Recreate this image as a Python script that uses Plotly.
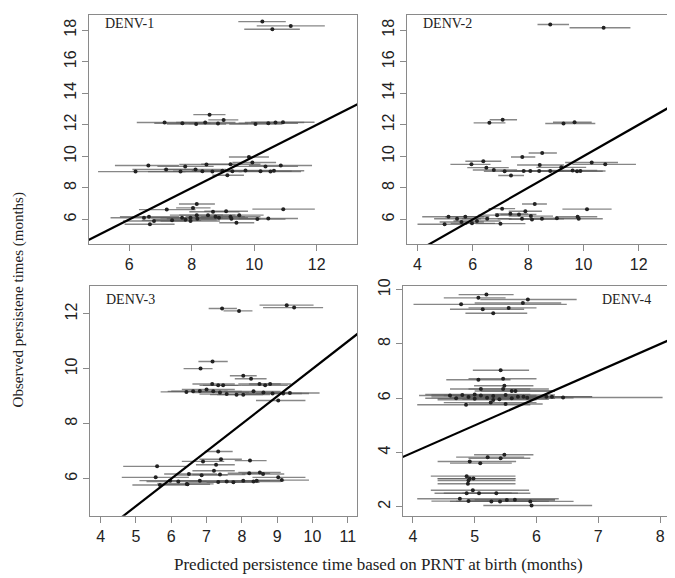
import plotly.graph_objects as go

# The page body has an 8px margin, so the figure is drawn 8px smaller and
# all pixel positions below are given in reference-image coordinates.
OFF = 8
W, H = 675 - OFF, 578 - OFF

# ---------------- data (predicted, observed, CI low, CI high) ----------------
d1_pred = [10.26, 11.17, 10.58,
           8.57, 9.02, 7.13, 7.70, 8.14, 8.43, 8.84, 10.04, 10.45, 10.68, 10.92,
           9.83, 9.94, 6.61, 8.47, 9.24, 10.85, 7.79, 6.20, 7.18, 7.64, 8.12, 8.34, 8.66, 8.98, 9.30, 9.72, 10.20, 10.52, 10.63, 9.14, 10.36,
           8.16, 10.93, 7.20, 8.04, 8.68, 9.10, 9.52, 8.16, 8.52, 6.47, 6.63, 6.79, 6.66, 7.37, 7.69, 7.80, 7.96, 7.96, 8.18, 8.76, 8.87, 9.24, 9.27, 9.43, 10.10, 10.45]
d1_obs = [18.54, 18.27, 18.06,
          12.64, 12.31, 12.14, 12.10, 12.05, 12.14, 12.08, 12.05, 12.10, 12.14, 12.16,
          9.96, 9.61, 9.42, 9.48, 9.50, 9.42, 9.36, 9.03, 9.16, 9.03, 9.16, 9.05, 9.03, 9.08, 9.05, 9.10, 9.05, 9.03, 9.08, 8.80, 9.36,
          6.98, 6.65, 6.62, 6.73, 6.48, 6.52, 6.27, 6.27, 6.27, 6.10, 6.17, 5.90, 5.69, 5.94, 6.10, 5.98, 5.90, 6.10, 6.04, 6.17, 6.10, 6.17, 6.04, 5.79, 6.02, 6.06]
d1_lo = [9.49, 10.08, 9.68,
         8.05, 8.53, 6.24, 6.80, 7.20, 7.50, 7.90, 9.20, 9.50, 9.70, 9.90,
         9.19, 9.30, 5.54, 7.60, 8.30, 9.83, 6.90, 5.00, 6.10, 6.60, 7.10, 7.40, 7.70, 8.00, 8.30, 8.70, 9.20, 9.50, 9.60, 8.66, 9.30,
         7.59, 9.94, 6.31, 7.50, 7.92, 8.40, 8.70, 7.30, 7.60, 5.40, 5.70, 5.80, 5.85, 6.40, 6.70, 6.80, 7.00, 7.00, 7.20, 7.80, 7.90, 8.30, 8.30, 8.88, 9.20, 9.50]
d1_hi = [11.01, 12.26, 11.46,
         9.08, 9.49, 8.40, 8.60, 9.10, 9.40, 9.80, 10.90, 11.40, 11.60, 11.93,
         10.47, 10.70, 7.59, 9.40, 10.20, 11.85, 8.70, 7.80, 8.20, 8.60, 9.10, 9.30, 9.60, 10.00, 10.30, 10.70, 11.20, 11.50, 11.60, 9.67, 11.40,
         8.74, 11.94, 8.12, 8.60, 9.53, 9.80, 10.30, 9.00, 9.40, 7.60, 7.60, 7.80, 7.45, 8.30, 8.70, 8.80, 8.90, 9.00, 9.20, 9.70, 9.80, 10.20, 10.20, 10.00, 11.00, 11.40]

d2_pred = [8.80, 10.73,
           7.08, 6.60, 9.28, 9.68,
           8.51, 7.79, 6.38, 5.95, 10.30, 10.79, 6.49, 6.76, 7.15, 7.38, 8.42, 7.84, 8.08, 8.40, 8.80, 9.61, 9.77, 9.89, 9.20,
           8.24, 10.13, 7.06, 7.90, 7.36, 7.67, 6.88, 5.12, 5.43, 5.73, 5.59, 4.98, 5.97, 6.15, 6.52, 7.00, 8.10, 8.14, 8.50, 9.04, 9.79, 9.83, 7.78]
d2_obs = [18.36, 18.15,
          12.32, 12.12, 12.08, 12.16,
          10.21, 9.96, 9.69, 9.49, 9.61, 9.49, 9.28, 9.13, 9.05, 8.78, 9.45, 9.07, 9.07, 9.07, 9.07, 9.10, 9.05, 9.07, 9.30,
          6.98, 6.65, 6.68, 6.52, 6.35, 6.31, 6.27, 6.17, 6.04, 6.17, 5.83, 5.69, 5.75, 5.90, 6.04, 5.73, 6.21, 6.00, 6.04, 6.08, 6.17, 6.04, 6.04]
d2_lo = [8.34, 9.50,
         6.61, 6.03, 8.62, 8.90,
         8.02, 7.38, 5.73, 5.19, 9.34, 9.60, 5.80, 6.00, 6.40, 6.92, 7.60, 7.00, 7.20, 7.50, 7.90, 8.70, 8.80, 8.90, 8.30,
         7.78, 9.24, 6.57, 7.30, 6.80, 7.00, 6.20, 4.17, 4.60, 5.00, 4.80, 4.00, 5.20, 5.30, 5.60, 6.10, 7.30, 7.30, 7.70, 8.20, 9.00, 9.00, 6.90]
d2_hi = [9.48, 11.70,
         7.60, 7.18, 10.43, 10.30,
         9.04, 8.26, 7.03, 6.64, 11.25, 11.90, 7.30, 7.60, 8.00, 7.85, 9.30, 8.70, 9.00, 9.30, 9.80, 10.50, 10.70, 10.80, 10.10,
         8.68, 11.02, 7.53, 8.50, 8.00, 8.30, 7.60, 6.40, 6.30, 6.60, 6.40, 5.80, 6.80, 7.00, 7.40, 7.90, 8.90, 9.00, 9.30, 9.90, 10.50, 10.70, 8.60]

d3_pred = [7.44, 7.92, 9.27, 9.48,
           7.17, 6.83, 8.04, 8.26, 7.16, 7.33, 7.47, 8.50, 8.66, 8.80, 6.43, 6.62, 6.81, 7.00, 7.19, 7.38, 7.57, 7.85, 8.04, 8.33, 8.61, 8.87, 9.17, 9.36, 9.03,
           7.33, 6.90, 7.41, 8.23, 7.27, 5.60, 7.21, 8.21, 8.51, 8.60, 6.50, 6.86, 7.38, 5.56, 5.97, 6.20, 6.44, 6.81, 7.33, 7.57, 7.76, 8.04, 8.33, 8.42, 9.03, 9.13, 5.68, 6.46]
d3_obs = [12.20, 12.11, 12.32, 12.23,
          10.27, 10.01, 9.75, 9.64, 9.45, 9.40, 9.40, 9.45, 9.40, 9.45, 9.16, 9.18, 9.19, 9.25, 9.18, 9.14, 9.08, 9.06, 9.06, 9.18, 9.14, 9.10, 9.10, 9.12, 8.85,
          6.99, 6.63, 6.71, 6.66, 6.51, 6.45, 6.29, 6.20, 6.23, 6.17, 6.17, 6.13, 6.15, 6.05, 5.93, 5.90, 5.81, 5.93, 5.88, 5.90, 5.87, 5.93, 5.90, 5.93, 6.05, 5.95, 5.77, 5.80]
d3_lo = [7.06, 7.48, 8.50, 8.60,
         6.77, 6.35, 7.66, 7.80, 6.60, 6.80, 6.90, 7.90, 8.00, 8.20, 5.70, 5.90, 6.00, 6.30, 6.40, 6.60, 6.80, 7.10, 7.30, 7.50, 7.80, 8.10, 8.40, 8.60, 8.40,
         6.95, 6.30, 6.80, 7.80, 6.70, 4.64, 6.60, 7.60, 7.90, 8.00, 5.80, 6.10, 6.60, 4.60, 5.10, 5.30, 5.60, 6.00, 6.50, 6.80, 7.00, 7.30, 7.60, 7.70, 8.30, 8.40, 4.90, 5.80]
d3_hi = [7.86, 8.30, 10.03, 10.30,
         7.60, 7.17, 8.42, 8.70, 7.80, 7.90, 8.00, 9.10, 9.30, 9.40, 7.30, 7.40, 7.60, 7.80, 8.00, 8.20, 8.40, 8.60, 8.80, 9.10, 9.40, 9.70, 9.90, 10.20, 9.80,
         7.74, 7.50, 8.00, 8.70, 7.80, 6.42, 7.80, 8.80, 9.10, 9.20, 7.30, 7.60, 8.10, 6.50, 6.80, 7.00, 7.20, 7.60, 8.10, 8.30, 8.50, 8.80, 9.10, 9.20, 9.80, 9.90, 6.50, 7.10]

d4_pred = [5.19, 5.06, 5.86, 5.78, 4.78, 5.13, 5.55, 5.30,
           5.42, 5.06, 5.46, 5.48, 5.10, 5.46, 5.60, 5.66, 6.16, 6.25, 6.43, 5.79, 4.86, 5.26, 5.50,
           4.60, 4.70, 4.80, 4.90, 5.00, 5.10, 5.20, 5.30, 5.40, 5.50, 5.60, 5.70, 5.85, 5.00, 5.30,
           5.48, 5.21, 5.42, 4.92, 5.09,
           4.87, 4.92, 4.98, 4.90, 4.89,
           4.97, 4.87, 5.07, 5.35, 4.76, 4.90, 5.27, 5.41, 5.52, 5.65, 5.90, 5.92]
d4_obs = [9.82, 9.70, 9.64, 9.51, 9.46, 9.28, 9.33, 9.13,
          7.03, 6.68, 6.72, 6.46, 6.34, 6.34, 6.27, 6.27, 6.06, 6.06, 6.03, 6.06, 5.76, 5.84, 5.79,
          6.10, 6.00, 6.12, 6.05, 5.98, 6.10, 6.02, 6.08, 5.96, 6.12, 6.00, 6.06, 6.02, 6.14, 5.94,
          3.92, 3.83, 3.79, 3.67, 3.61,
          3.13, 3.04, 3.04, 2.97, 2.85,
          2.61, 2.50, 2.50, 2.50, 2.30, 2.21, 2.20, 2.20, 2.25, 2.26, 2.20, 2.05]
d4_lo = [4.74, 4.50, 5.09, 5.00, 4.01, 4.60, 4.90, 4.85,
         4.97, 4.54, 4.90, 4.99, 4.60, 4.90, 5.00, 5.10, 5.20, 5.30, 5.20, 4.90, 4.07, 4.50, 4.90,
         4.10, 4.20, 4.30, 4.30, 4.40, 4.50, 4.60, 4.70, 4.80, 4.80, 4.90, 5.00, 5.00, 4.20, 4.40,
         4.99, 4.70, 4.90, 4.40, 4.60,
         4.29, 4.40, 4.40, 4.40, 4.40,
         4.29, 4.35, 4.50, 4.80, 4.07, 4.30, 4.60, 4.70, 4.90, 5.00, 5.20, 5.14]
d4_hi = [5.63, 5.50, 6.65, 6.40, 6.49, 5.80, 6.00, 5.85,
         5.88, 5.58, 6.00, 5.95, 5.90, 6.20, 6.30, 6.30, 6.90, 6.90, 8.04, 6.50, 5.90, 6.00, 6.10,
         5.50, 5.60, 5.70, 5.80, 5.90, 6.00, 6.00, 6.10, 6.20, 6.30, 6.30, 6.40, 6.60, 5.90, 6.00,
         5.95, 5.80, 5.90, 5.67, 5.60,
         5.66, 5.66, 5.66, 5.66, 5.66,
         5.88, 5.60, 5.70, 5.90, 6.36, 5.90, 6.00, 6.20, 6.30, 6.30, 6.60, 6.90]

panel_names = ["DENV-1", "DENV-2", "DENV-3", "DENV-4"]
x_ranges = [[4.71, 13.29], [3.62, 13.24], [3.70, 11.26], [3.84, 8.16]]
y_ranges = [[4.43, 18.96], [4.43, 18.96], [4.65, 13.03], [1.67, 10.15]]
x_ticks = [[6, 8, 10, 12], [4, 6, 8, 10, 12], [4, 5, 6, 7, 8, 9, 10, 11], [4, 5, 6, 7, 8]]
y_ticks = [[6, 8, 10, 12, 14, 16, 18], [6, 8, 10, 12, 14, 16, 18], [6, 8, 10, 12], [2, 4, 6, 8, 10]]

x_title = "Predicted persistence time based on PRNT at birth (months)"
y_title = "Observed persistene times (months)"

panels = [(d1_pred, d1_obs, d1_lo, d1_hi), (d2_pred, d2_obs, d2_lo, d2_hi),
          (d3_pred, d3_obs, d3_lo, d3_hi), (d4_pred, d4_obs, d4_lo, d4_hi)]

# ---------------- layout (pixel boxes in reference coordinates) ----------------
boxes = [(89, 357, 8, 240), (407, 673, 8, 240), (90, 357, 282, 515), (403, 670, 282, 515)]


def fx(px):
    return min(max((px - OFF) / W, 0.0), 1.0)


def fy(py):
    return min(max(1 - (py - OFF) / H, 0.0), 1.0)


fig = go.Figure()
layout = dict(width=W, height=H, margin=dict(l=0, r=0, t=0, b=0),
              paper_bgcolor="white", plot_bgcolor="white", showlegend=False)

tickfont = dict(family="Liberation Sans, Arial", size=16, color="#222")
for i, (pred, obs, lo, hi) in enumerate(panels):
    k = "" if i == 0 else str(i + 1)
    xa, ya = "x" + k, "y" + k
    plus = [h - p for h, p in zip(hi, pred)]
    minus = [p - l for p, l in zip(pred, lo)]
    fig.add_trace(go.Scatter(
        x=pred, y=obs, mode="markers", xaxis=xa, yaxis=ya,
        marker=dict(size=4, color="#222"),
        error_x=dict(type="data", symmetric=False, array=plus, arrayminus=minus,
                     color="rgba(95,95,95,0.75)", thickness=1.4, width=0)))
    lo_r = min(x_ranges[i][0], y_ranges[i][0])
    hi_r = max(x_ranges[i][1], y_ranges[i][1])
    fig.add_trace(go.Scatter(x=[lo_r, hi_r], y=[lo_r, hi_r], mode="lines",
                             xaxis=xa, yaxis=ya, line=dict(color="black", width=2.2),
                             hoverinfo="skip"))
    x0, x1, y0, y1 = boxes[i]
    axstyle = dict(showgrid=False, zeroline=False, showline=True, mirror=True,
                   linecolor="#8a8a8a", linewidth=1, ticks="outside", ticklen=6,
                   tickcolor="#8a8a8a", tickfont=tickfont)
    layout["xaxis" + k] = dict(domain=[fx(x0), fx(x1)], range=x_ranges[i],
                               tickvals=x_ticks[i], anchor=ya, **axstyle)
    layout["yaxis" + k] = dict(domain=[fy(y1), fy(y0)], range=y_ranges[i],
                               tickvals=y_ticks[i], anchor=xa, tickangle=-90, **axstyle)

fig.update_layout(**layout)

ann_font = dict(family="Liberation Serif, Times New Roman", size=14, color="#222")
label_pos = [(103, 17, "left"), (421, 17, "left"), (104, 296, "left"), (653, 296, "right")]
for i, (px, py, al) in enumerate(label_pos):
    fig.add_annotation(x=fx(px), y=fy(py), xref="paper", yref="paper",
                       text=panel_names[i], showarrow=False, xanchor=al, yanchor="middle",
                       font=ann_font)

fig.add_annotation(x=fx(378), y=fy(564), xref="paper", yref="paper", text=x_title,
                   showarrow=False, xanchor="center", yanchor="middle",
                   font=dict(family="Liberation Serif, Times New Roman", size=17, color="#222"))
fig.add_annotation(x=fx(18), y=fy(297), xref="paper", yref="paper", text=y_title,
                   showarrow=False, xanchor="center", yanchor="middle", textangle=-90,
                   font=dict(family="Liberation Serif, Times New Roman", size=15, color="#222"))

fig.write_html("out.html")
